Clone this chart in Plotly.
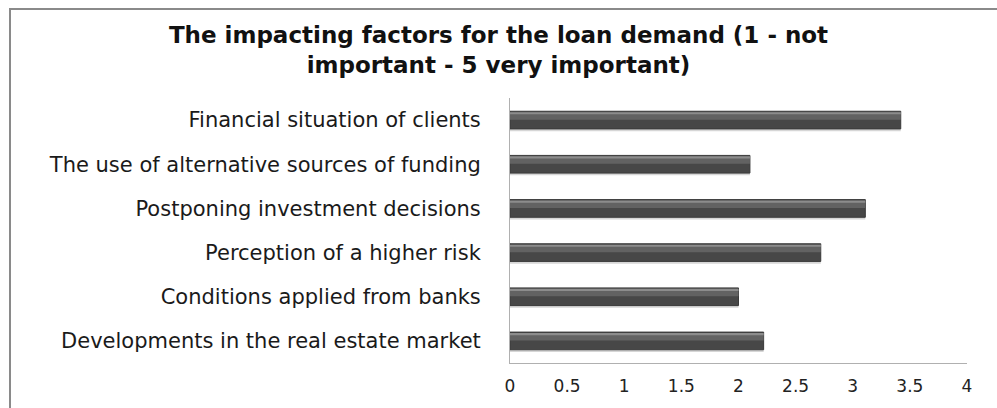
import plotly.graph_objects as go

# Factors listed bottom-to-top, as they stack on the category axis
factors = [
    "Developments in the real estate market",
    "Conditions applied from banks",
    "Perception of a higher risk",
    "Postponing investment decisions",
    "The use of alternative sources of funding",
    "Financial situation of clients",
]
scores = [2.22, 2.0, 2.72, 3.11, 2.1, 3.42]

x_ticks = [0, 0.5, 1, 1.5, 2, 2.5, 3, 3.5, 4]

fig = go.Figure()

# soft drop shadow under each bar
fig.add_trace(go.Bar(
    y=factors, x=scores, orientation="h",
    width=0.42, offset=-0.25,
    marker=dict(color="#d6d6d6", line=dict(width=0)),
    hoverinfo="skip", showlegend=False,
))
# dark body of the bar
fig.add_trace(go.Bar(
    y=factors, x=scores, orientation="h",
    width=0.40, offset=-0.20,
    marker=dict(color="#474747", line=dict(color="#3a3a3a", width=1)),
    showlegend=False,
))
# lighter upper band giving the bevelled look
fig.add_trace(go.Bar(
    y=factors, x=scores, orientation="h",
    width=0.16, offset=0.01,
    marker=dict(color="#626262", line=dict(width=0)),
    hoverinfo="skip", showlegend=False,
))
# thin highlight along the top edge
fig.add_trace(go.Bar(
    y=factors, x=scores, orientation="h",
    width=0.05, offset=0.13,
    marker=dict(color="#8c8c8c", line=dict(width=0)),
    hoverinfo="skip", showlegend=False,
))

fig.update_layout(
    width=997, height=408,
    margin=dict(l=510, r=30, t=98, b=42),
    paper_bgcolor="white", plot_bgcolor="white",
    barmode="overlay",
    title=dict(
        text="The impacting factors for the loan demand (1 - not<br>important - 5 very important)",
        x=0.5, xref="container", xanchor="center",
        y=0.895, yref="container", yanchor="top",
        font=dict(family="DejaVu Sans", size=23, color="#111111", weight="bold"),
    ),
    xaxis=dict(
        range=[0, 4], tickvals=x_ticks, ticktext=[f"{v:g}" for v in x_ticks],
        showgrid=False, zeroline=False,
        showline=True, linecolor="#b0b0b0", linewidth=1,
        ticks="", ticklabelstandoff=8,
        tickfont=dict(family="DejaVu Sans", size=17, color="#222222"),
    ),
    yaxis=dict(
        showgrid=False, zeroline=False,
        showline=True, linecolor="#b0b0b0", linewidth=1,
        ticks="", ticklabelstandoff=24,
        tickfont=dict(family="DejaVu Sans", size=21, color="#1a1a1a"),
    ),
    shapes=[dict(
        type="rect", xref="paper", yref="paper",
        x0=-500 / 457, x1=1.08, y0=-0.2, y1=358 / 268,
        line=dict(color="#8a8a8a", width=2), fillcolor="rgba(0,0,0,0)",
        layer="below",
    )],
)

fig.write_html("out.html")
